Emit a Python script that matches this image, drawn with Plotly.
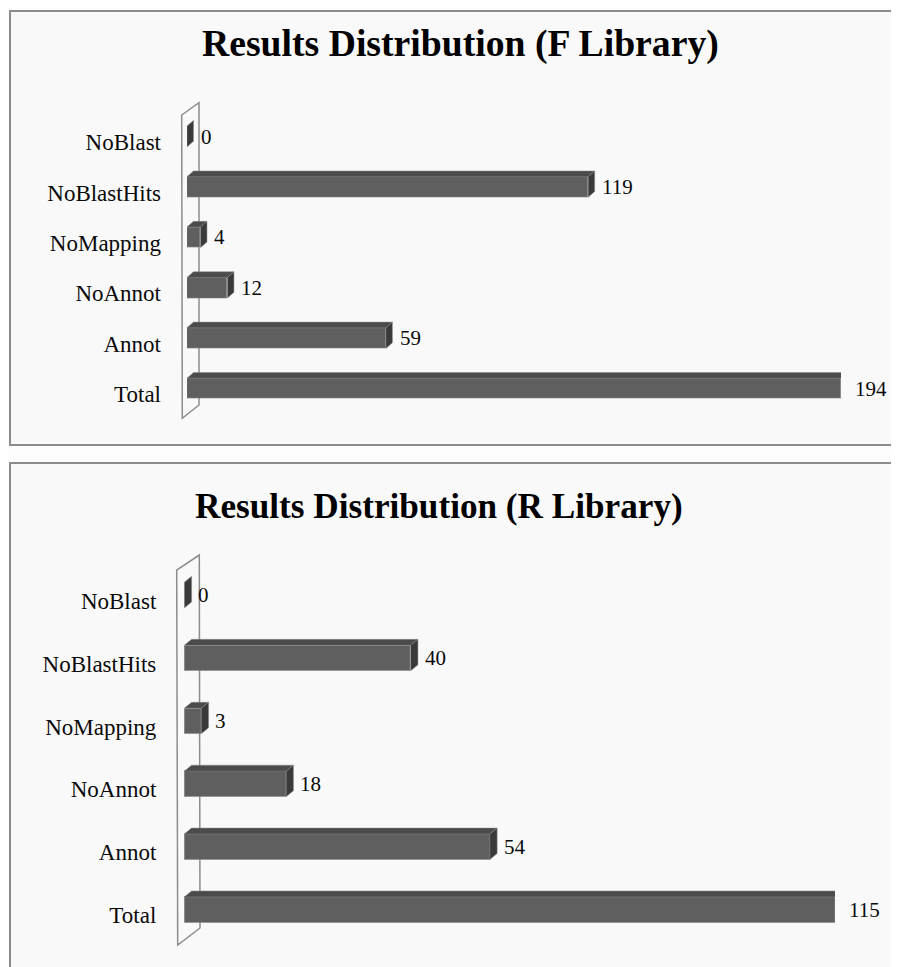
import plotly.graph_objects as go

# ---- data ----
categories = ["NoBlast", "NoBlastHits", "NoMapping", "NoAnnot", "Annot", "Total"]
f_values = [0, 119, 4, 12, 59, 194]
r_values = [0, 40, 3, 18, 54, 115]
titles = ["Results Distribution (F Library)", "Results Distribution (R Library)"]

# page has an 8px body margin; the figure fills the rest of the 899x967 window
OFF = 8
W, H = 899 - OFF, 967 - OFF
SERIF = "Liberation Serif, Times New Roman, serif"
FRONT = "#5f5f5f"
TOPC = "#4b4b4b"
SIDE = "#3a3a3a"
EDGE = "#8a8a8a"


def px_x(p):
    return (p - OFF) / W


def px_y(p):
    return 1 - (p - OFF) / H


panels = [
    dict(values=f_values, title=titles[0], ax="", x_px=(187, 841), y_px=(111.4, 413.7),
         depth=(6.5, 5.7), bar_px=20.6, title_xy=(460, 44), title_size=37.7,
         box=(10, 11, 905, 445),
         wall=[(181.7, 115), (199, 102.7), (199, 405), (182.3, 418.3)], standoff=25),
    dict(values=r_values, title=titles[1], ax="2", x_px=(184.3, 835), y_px=(563.75, 941.15),
         depth=(7.3, 6.0), bar_px=25.5, title_xy=(439, 506), title_size=35.2,
         box=(10, 463, 905, 975),
         wall=[(176.7, 570), (199.3, 555), (200, 928), (177.7, 945)], standoff=27),
]

n = len(categories)
positions = [n - 1 - i for i in range(n)]  # first category at top

shapes = []
annotations = []
layout_axes = {}
traces = []

for p in panels:
    vals = p["values"]
    xmax = max(vals)
    xr = "x" + p["ax"]
    yr = "y" + p["ax"]
    x0p, x1p = p["x_px"]
    y0p, y1p = p["y_px"]
    ux = xmax / (x1p - x0p)          # data units per pixel (x)
    uy = n / (y1p - y0p)             # data units per pixel (y)
    w = p["bar_px"] * uy
    dxu = p["depth"][0] * ux
    dyu = p["depth"][1] * uy

    # panel box
    bx0, by0, bx1, by1 = p["box"]
    shapes.append(dict(type="rect", xref="paper", yref="paper", layer="below",
                       x0=px_x(bx0), x1=px_x(bx1), y0=px_y(by1), y1=px_y(by0),
                       fillcolor="#f9f9f9", line=dict(color="#8c8c8c", width=2)))
    # back wall
    pts = p["wall"]
    path = "M " + " L ".join(f"{px_x(a):.5f},{px_y(b):.5f}" for a, b in pts) + " Z"
    shapes.append(dict(type="path", xref="paper", yref="paper", layer="below",
                       path=path, line=dict(color="#8c8c8c", width=1.5)))

    # front faces
    traces.append(go.Bar(x=vals, y=positions, orientation="h", width=w,
                         marker=dict(color=FRONT, line=dict(color=EDGE, width=0.6)),
                         xaxis=xr, yaxis=yr, showlegend=False, hoverinfo="skip"))

    for v, pos in zip(vals, positions):
        yt = pos + w / 2
        yb = pos - w / 2
        shapes.append(dict(type="path", xref=xr, yref=yr, layer="above",
                           path=f"M 0,{yt} L {v},{yt} L {v + dxu},{yt + dyu} L {dxu},{yt + dyu} Z",
                           fillcolor=TOPC, line=dict(color=EDGE, width=0.5)))
        shapes.append(dict(type="path", xref=xr, yref=yr, layer="above",
                           path=f"M {v},{yb} L {v},{yt} L {v + dxu},{yt + dyu} L {v + dxu},{yb + dyu} Z",
                           fillcolor=SIDE, line=dict(color=EDGE, width=0.5)))
        annotations.append(dict(x=v, y=pos, xref=xr, yref=yr, text=str(v), showarrow=False,
                                xanchor="left", yanchor="middle", xshift=12,
                                font=dict(family=SERIF, size=21, color="#0a0a0a")))

    tx, ty = p["title_xy"]
    annotations.append(dict(x=px_x(tx), y=px_y(ty), xref="paper", yref="paper",
                            text=f"<b>{p['title']}</b>", showarrow=False,
                            xanchor="center", yanchor="middle",
                            font=dict(family=SERIF, size=p["title_size"], color="#000000")))

    lab_off = 5.5 * uy
    xa = "xaxis" + p["ax"]
    ya = "yaxis" + p["ax"]
    layout_axes[xa] = dict(domain=[px_x(x0p), px_x(x1p)], range=[0, xmax], visible=False,
                           anchor=yr, fixedrange=True)
    layout_axes[ya] = dict(domain=[px_y(y1p), px_y(y0p)], range=[-0.5, n - 0.5],
                           anchor=xr, showgrid=False, zeroline=False, showline=False,
                           tickvals=[pos - lab_off for pos in positions], ticktext=categories,
                           tickfont=dict(family=SERIF, size=23, color="#0a0a0a"),
                           ticks="", ticklabelstandoff=p["standoff"], fixedrange=True)

fig = go.Figure(data=traces)
fig.update_layout(width=W, height=H, margin=dict(l=0, r=0, t=0, b=0),
                  paper_bgcolor="#fdfdfd", plot_bgcolor="rgba(0,0,0,0)",
                  shapes=shapes, annotations=annotations, bargap=0, **layout_axes)
fig.write_html("out.html")
